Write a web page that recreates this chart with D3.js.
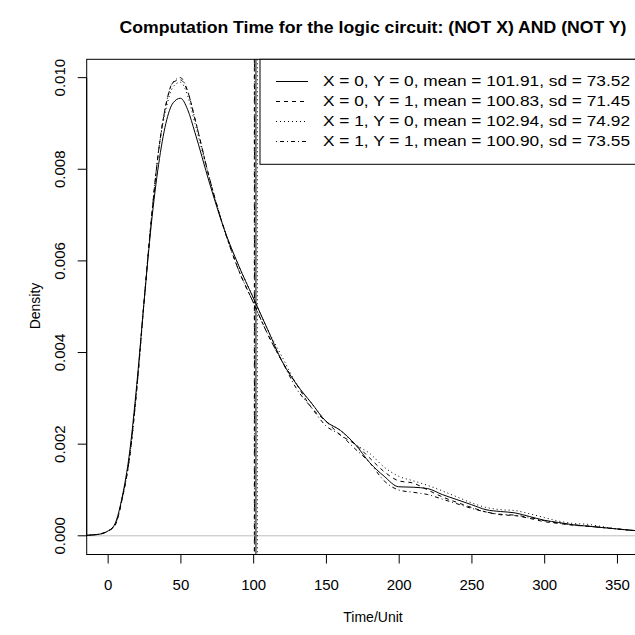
<!DOCTYPE html>
<meta charset="utf-8">
<style>
    body { margin: 0; background-color: #fff; }
    svg { display: block; font-family: "Liberation Sans", Arial, sans-serif; }
</style>
<script src="https://cdn.jsdelivr.net/npm/d3@7"></script>
<svg width="635" height="635"></svg>
<script>
    // grid de tempo (Time/Unit) onde as densidades foram lidas
    var tempos = [-15, -10, -5, 0, 5, 10, 15, 20, 25, 30, 35, 40, 45, 50, 55, 60, 70, 80, 90, 100,
        110, 120, 130, 140, 150, 160, 170, 180, 190, 200, 210, 220, 230, 240, 250, 260, 270, 280,
        290, 300, 310, 320, 330, 340, 350, 360, 370, 380];

    var dens00 = [0.00001, 0.00002, 0.00004, 0.00010, 0.00026, 0.00085, 0.0018, 0.0033, 0.0051, 0.0068,
        0.0081, 0.0090, 0.00945, 0.00955, 0.0093, 0.0088, 0.0077, 0.0067, 0.0059, 0.0052,
        0.0045, 0.0038, 0.0033, 0.0029, 0.0025, 0.0023, 0.0020, 0.0016, 0.0013, 0.00107,
        0.00106, 0.00103, 0.00090, 0.00079, 0.00068, 0.00057, 0.00053, 0.00050, 0.00042, 0.00034,
        0.00029, 0.00024, 0.00021, 0.00018, 0.00015, 0.00012, 0.00010, 0.00008];
    var dens01 = [0.00001, 0.00002, 0.00004, 0.00010, 0.00022, 0.00080, 0.0017, 0.0032, 0.0051, 0.0069,
        0.0084, 0.0094, 0.0099, 0.00995, 0.0097, 0.0091, 0.0078, 0.0067, 0.0058, 0.0051,
        0.0044, 0.0038, 0.0033, 0.0028, 0.0025, 0.0022, 0.0020, 0.0017, 0.0014, 0.0012,
        0.00115, 0.0010, 0.00085, 0.00073, 0.00062, 0.00052, 0.00046, 0.00044, 0.00038, 0.00031,
        0.00027, 0.00023, 0.00021, 0.00018, 0.00015, 0.00012, 0.00010, 0.00008];
    var dens10 = [0.00001, 0.00002, 0.00004, 0.00010, 0.00024, 0.00082, 0.0017, 0.0032, 0.0051, 0.0069,
        0.0084, 0.0093, 0.0098, 0.0099, 0.0096, 0.0090, 0.0078, 0.0067, 0.0059, 0.0052,
        0.0045, 0.0039, 0.0033, 0.0029, 0.0025, 0.0023, 0.0020, 0.0018, 0.0015, 0.0013,
        0.0012, 0.0011, 0.00098, 0.00085, 0.00072, 0.00062, 0.00057, 0.00055, 0.00048, 0.00040,
        0.00032, 0.00027, 0.00025, 0.00020, 0.00015, 0.00012, 0.00010, 0.00008];
    var dens11 = [0.00001, 0.00002, 0.00004, 0.00010, 0.00024, 0.00082, 0.0017, 0.0032, 0.0051, 0.0069,
        0.0084, 0.0094, 0.0099, 0.0100, 0.0097, 0.0091, 0.0078, 0.0067, 0.0058, 0.0051,
        0.0044, 0.0038, 0.0032, 0.0028, 0.0024, 0.0022, 0.0019, 0.0016, 0.0012, 0.0010,
        0.00095, 0.0009, 0.0008, 0.0007, 0.0006, 0.00052, 0.00047, 0.00045, 0.00040, 0.00033,
        0.00028, 0.00024, 0.00021, 0.00018, 0.00015, 0.00012, 0.00010, 0.00008];

    var medias = [101.91, 100.83, 102.94, 100.90];
    var rotulos = ["X = 0, Y = 0, mean = 101.91, sd = 73.52",
        "X = 0, Y = 1, mean = 100.83, sd = 71.45",
        "X = 1, Y = 0, mean = 102.94, sd = 74.92",
        "X = 1, Y = 1, mean = 100.90, sd = 73.55"];
    var xTicks = [0, 50, 100, 150, 200, 250, 300, 350];
    var yTicks = [0, 0.002, 0.004, 0.006, 0.008, 0.010];

    var series = [dens00, dens01, dens10, dens11];
    var tracos = [null, "4,4", "1,3", "1,3,4,3"];

    var svg = d3.select("svg");
    var esq = 86.7, dir = 659, topo = 59.3, base = 554.5;

    var x = d3.scaleLinear().domain([-14.4, 378.9]).range([esq, dir]);
    var y = d3.scaleLinear().domain([-0.000408, 0.01040]).range([base, topo]);

    var plot = svg.append("g");
    plot.append("clipPath").attr("id", "clip")
        .append("rect").attr("x", esq).attr("y", topo).attr("width", dir - esq).attr("height", base - topo);

    // linha cinza em zero
    plot.append("line")
        .attr("x1", esq).attr("x2", dir)
        .attr("y1", y(0)).attr("y2", y(0))
        .attr("stroke", "#bebebe");

    var linha = d3.line()
        .x(function (d, i) { return x(tempos[i]); })
        .y(function (d) { return y(d); })
        .curve(d3.curveMonotoneX);

    plot.selectAll(".dens")
        .data(series)
        .enter().append("path")
        .attr("class", "dens")
        .attr("clip-path", "url(#clip)")
        .attr("d", linha)
        .attr("fill", "none")
        .attr("stroke", "#000")
        .attr("stroke-width", 1)
        .attr("stroke-dasharray", function (d, i) { return tracos[i]; });

    plot.selectAll(".media")
        .data(medias)
        .enter().append("line")
        .attr("class", "media")
        .attr("x1", function (d) { return x(d); })
        .attr("x2", function (d) { return x(d); })
        .attr("y1", topo).attr("y2", base)
        .attr("stroke", "#000")
        .attr("stroke-dasharray", function (d, i) { return tracos[i]; });

    // caixa
    svg.append("rect")
        .attr("x", esq).attr("y", topo)
        .attr("width", dir - esq).attr("height", base - topo)
        .attr("fill", "none").attr("stroke", "#000");

    // eixos estilo R
    var eixoX = d3.axisBottom(x).tickValues(xTicks).tickSize(9).tickPadding(0).tickFormat(d3.format("d"));
    var gx = svg.append("g").attr("transform", "translate(0," + base + ")").call(eixoX);
    gx.select(".domain").attr("d", "M" + x(0) + ",0H" + x(350));
    gx.selectAll("text")
        .attr("font-size", 15).attr("font-family", null).attr("fill", "#000")
        .attr("dy", null).attr("y", 35.5);

    var eixoY = d3.axisLeft(y).tickValues(yTicks).tickSize(9).tickFormat(d3.format(".3f"));
    var gy = svg.append("g").attr("transform", "translate(" + esq + ",0)").call(eixoY);
    gy.select(".domain").attr("d", "M0," + y(0) + "V" + y(0.010));
    gy.selectAll(".tick").attr("transform", null);
    gy.selectAll(".tick line").attr("transform", function (d) { return "translate(0," + y(d) + ")"; });
    gy.selectAll("text")
        .attr("font-size", 15).attr("font-family", null).attr("fill", "#000")
        .attr("x", null).attr("dy", null)
        .attr("text-anchor", "middle")
        .attr("transform", function (d) { return "translate(-22," + y(d) + ") rotate(-90)"; })
        .attr("y", 0);

    // titulos
    svg.append("text")
        .attr("x", 373).attr("y", 33)
        .attr("text-anchor", "middle")
        .attr("font-weight", "bold").attr("font-size", 16)
        .attr("textLength", 507).attr("lengthAdjust", "spacingAndGlyphs")
        .text("Computation Time for the logic circuit: (NOT X) AND (NOT Y)");
    svg.append("text")
        .attr("x", 373).attr("y", 622)
        .attr("text-anchor", "middle").attr("font-size", 14)
        .text("Time/Unit");
    svg.append("text")
        .attr("transform", "translate(40,306) rotate(-90)")
        .attr("text-anchor", "middle").attr("font-size", 14)
        .text("Density");

    // legenda
    var leg = svg.append("g");
    leg.append("rect")
        .attr("x", 260).attr("y", topo)
        .attr("width", dir - 260).attr("height", 105)
        .attr("fill", "#fff").attr("stroke", "#000");
    var item = leg.selectAll(".item")
        .data(rotulos)
        .enter().append("g")
        .attr("transform", function (d, i) { return "translate(0," + (81.5 + i * 20) + ")"; });
    item.append("line")
        .attr("x1", 276).attr("x2", 308)
        .attr("stroke", "#000")
        .attr("stroke-dasharray", function (d, i) { return tracos[i]; });
    item.append("text")
        .attr("x", 323).attr("dy", "0.35em")
        .attr("font-size", 14)
        .attr("textLength", 307).attr("lengthAdjust", "spacingAndGlyphs")
        .text(function (d) { return d; });
</script>
